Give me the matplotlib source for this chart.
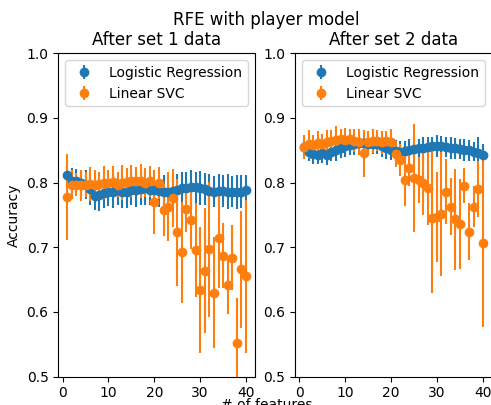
import numpy as np
import matplotlib
matplotlib.use("Agg")
import matplotlib.pyplot as plt

n_features = list(range(1, 41))

# set 1 data
lr1 = [0.812, 0.803, 0.803, 0.800, 0.797, 0.790, 0.780, 0.781, 0.784, 0.786,
       0.785, 0.788, 0.786, 0.785, 0.788, 0.788, 0.790, 0.792, 0.789, 0.788,
       0.787, 0.786, 0.786, 0.787, 0.789, 0.791, 0.792, 0.793, 0.793, 0.792,
       0.790, 0.787, 0.786, 0.787, 0.787, 0.786, 0.786, 0.785, 0.786, 0.788]
lr1_err = [0.020, 0.020, 0.018, 0.020, 0.022, 0.024, 0.022, 0.025, 0.024, 0.022,
           0.025, 0.023, 0.026, 0.024, 0.022, 0.025, 0.024, 0.026, 0.023, 0.025,
           0.024, 0.026, 0.025, 0.027, 0.024, 0.026, 0.025, 0.027, 0.024, 0.026,
           0.025, 0.027, 0.024, 0.026, 0.025, 0.027, 0.024, 0.026, 0.025, 0.024]
svc1 = [0.778, 0.797, 0.797, 0.796, 0.797, 0.798, 0.797, 0.798, 0.800, 0.799,
        0.801, 0.797, 0.800, 0.801, 0.802, 0.803, 0.802, 0.800, 0.802, 0.770,
        0.799, 0.758, 0.763, 0.776, 0.723, 0.692, 0.759, 0.742, 0.696, 0.634,
        0.664, 0.697, 0.630, 0.715, 0.687, 0.642, 0.684, 0.552, 0.666, 0.655]
svc1_err = [0.066, 0.022, 0.018, 0.024, 0.020, 0.026, 0.022, 0.019, 0.025, 0.021,
            0.024, 0.020, 0.027, 0.022, 0.025, 0.021, 0.026, 0.023, 0.024, 0.050,
            0.025, 0.040, 0.054, 0.045, 0.083, 0.078, 0.036, 0.045, 0.073, 0.097,
            0.097, 0.104, 0.086, 0.078, 0.050, 0.045, 0.050, 0.070, 0.090, 0.118]

# set 2 data
lr2 = [0.855, 0.848, 0.844, 0.843, 0.845, 0.843, 0.848, 0.850, 0.853, 0.856,
       0.858, 0.860, 0.861, 0.861, 0.860, 0.860, 0.859, 0.857, 0.853, 0.850,
       0.849, 0.848, 0.849, 0.850, 0.852, 0.853, 0.854, 0.855, 0.856, 0.857,
       0.856, 0.855, 0.854, 0.853, 0.852, 0.851, 0.850, 0.848, 0.845, 0.843]
lr2_err = [0.014, 0.015, 0.016, 0.015, 0.014, 0.016, 0.015, 0.017, 0.015, 0.016,
           0.015, 0.017, 0.016, 0.015, 0.017, 0.016, 0.015, 0.017, 0.016, 0.015,
           0.017, 0.016, 0.015, 0.017, 0.016, 0.015, 0.017, 0.016, 0.015, 0.017,
           0.016, 0.015, 0.017, 0.016, 0.015, 0.017, 0.016, 0.015, 0.025, 0.016]
svc2 = [0.855, 0.860, 0.858, 0.861, 0.859, 0.862, 0.864, 0.866, 0.867, 0.866,
        0.868, 0.865, 0.863, 0.845, 0.862, 0.864, 0.865, 0.862, 0.864, 0.863,
        0.844, 0.835, 0.804, 0.823, 0.807, 0.804, 0.799, 0.791, 0.745, 0.747,
        0.751, 0.786, 0.763, 0.743, 0.736, 0.795, 0.724, 0.763, 0.790, 0.706]
svc2_err = [0.018, 0.022, 0.015, 0.018, 0.016, 0.020, 0.017, 0.022, 0.016, 0.019,
            0.015, 0.018, 0.020, 0.036, 0.017, 0.019, 0.016, 0.018, 0.015, 0.020,
            0.020, 0.025, 0.040, 0.028, 0.084, 0.036, 0.049, 0.057, 0.116, 0.069,
            0.096, 0.050, 0.044, 0.078, 0.070, 0.027, 0.044, 0.031, 0.043, 0.129]

fig = plt.figure(figsize=(4.91, 4.05), dpi=100)
ax1 = fig.add_axes([0.1187, 0.0699, 0.4006, 0.7988])
ax2 = fig.add_axes([0.6008, 0.0699, 0.4006, 0.7988])

for ax, lr, lr_err, svc, svc_err, title in [
        (ax1, lr1, lr1_err, svc1, svc1_err, "After set 1 data"),
        (ax2, lr2, lr2_err, svc2, svc2_err, "After set 2 data")]:
    ax.errorbar(n_features, lr, yerr=lr_err, fmt="o", color="#1f77b4", label="Logistic Regression")
    ax.errorbar(n_features, svc, yerr=svc_err, fmt="o", color="#ff7f0e", label="Linear SVC")
    ax.set_ylim(0.5, 1.0)
    ax.set_xlim(-0.95, 41.95)
    ax.set_xticks([0, 10, 20, 30, 40])
    ax.set_title(title)
    ax.legend(loc="upper right")

ax1.set_ylabel("Accuracy")
fig.suptitle("RFE with player model", x=0.543, y=0.951, va="center")
fig.text(0.544, 0.018, "# of features", ha="center", va="top")

fig.savefig("out.png", dpi=100)
